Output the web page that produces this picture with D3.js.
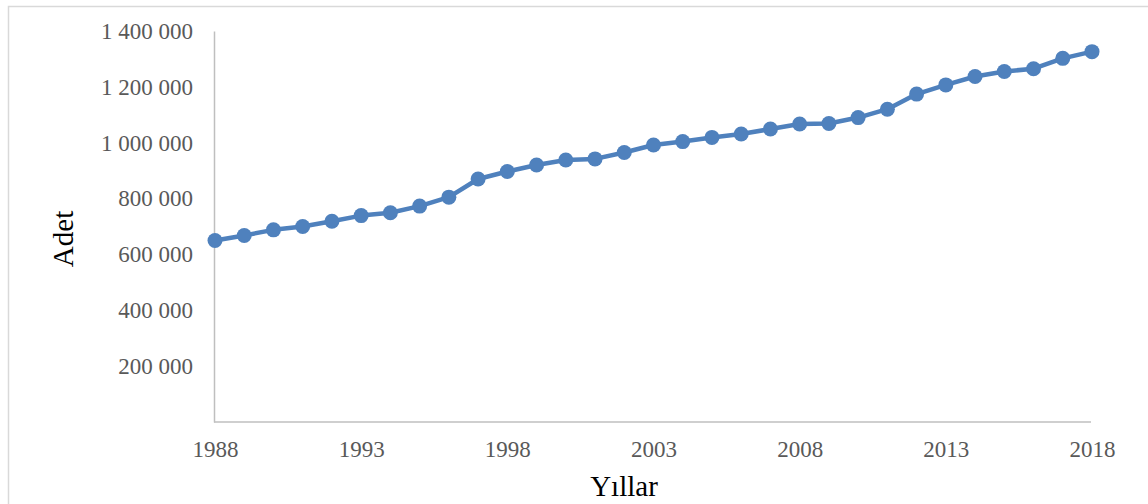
<!DOCTYPE html>
<html>
<head>
<meta charset="utf-8">
<script src="https://cdn.jsdelivr.net/npm/d3@7"></script>
<style>
  body { margin: 0; background: #fff; }
</style>
</head>
<body>
<div id="chart"></div>
<script>
// yillar ve adet degerleri
var years = [1988, 1989, 1990, 1991, 1992, 1993, 1994, 1995, 1996, 1997,
             1998, 1999, 2000, 2001, 2002, 2003, 2004, 2005, 2006, 2007,
             2008, 2009, 2010, 2011, 2012, 2013, 2014, 2015, 2016, 2017, 2018];
var values = [650000, 668000, 688000, 700000, 719000, 739000, 749000, 773000, 805000, 870000,
              897000, 920000, 938000, 942000, 965000, 992000, 1004000, 1019000, 1031000, 1049000,
              1067000, 1069000, 1090000, 1120000, 1174000, 1207000, 1237000, 1255000, 1265000, 1302000, 1326000];
var yTicks = [200000, 400000, 600000, 800000, 1000000, 1200000, 1400000];
var xTicks = [1988, 1993, 1998, 2003, 2008, 2013, 2018];

var width = 1148;
var height = 504;

var svg = d3.select("#chart").append("svg")
    .attr("width", width)
    .attr("height", height);

// chart border
svg.append("rect")
    .attr("x", 8.5)
    .attr("y", 6.5)
    .attr("width", 1150)
    .attr("height", 520)
    .attr("fill", "none")
    .attr("stroke", "#d9d9d9")
    .attr("stroke-width", 1.5);

var x = d3.scaleLinear().domain([1988, 2018]).range([215, 1092]);
var y = d3.scaleLinear().domain([0, 1400000]).range([422, 31]);

var fmt = function (d) { return d3.format(",")(d).replace(/,/g, " "); };

/*****************  Axes **********************/
var yAxis = svg.append("g")
    .attr("transform", "translate(214,0)")
    .call(d3.axisLeft(y).tickValues(yTicks).tickSize(0).tickPadding(21).tickFormat(fmt));

var xAxis = svg.append("g")
    .attr("transform", "translate(0,422)")
    .call(d3.axisBottom(x).tickValues(xTicks).tickSize(0).tickPadding(19).tickFormat(d3.format("d")));

[yAxis, xAxis].forEach(function (g) {
    g.select(".domain").attr("stroke", "#bfbfbf").attr("stroke-width", 1.5);
    g.selectAll("text")
        .attr("font-family", "Liberation Serif, Times New Roman, serif")
        .attr("font-size", "23px")
        .attr("fill", "#595959");
});
xAxis.select(".domain").attr("d", "M214,0H1091");

/*****************  Line and markers **********************/
var data = years.map(function (yr, i) { return { year: yr, value: values[i] }; });

var line = d3.line()
    .x(function (d) { return x(d.year); })
    .y(function (d) { return y(d.value); });

svg.append("path")
    .datum(data)
    .attr("d", line)
    .attr("fill", "none")
    .attr("stroke", "#4f81bd")
    .attr("stroke-width", 4.5)
    .attr("stroke-linejoin", "round");

svg.selectAll(".dot")
    .data(data)
    .enter()
    .append("circle")
    .attr("class", "dot")
    .attr("cx", function (d) { return x(d.year); })
    .attr("cy", function (d) { return y(d.value); })
    .attr("r", 7.5)
    .attr("fill", "#4f81bd");

/*****************  Axis titles **********************/
svg.append("text")
    .attr("transform", "translate(73,239) rotate(-90)")
    .attr("text-anchor", "middle")
    .attr("font-family", "Liberation Serif, Times New Roman, serif")
    .attr("font-size", "29px")
    .attr("fill", "#000")
    .text("Adet");

svg.append("text")
    .attr("x", 624)
    .attr("y", 496)
    .attr("text-anchor", "middle")
    .attr("font-family", "Liberation Serif, Times New Roman, serif")
    .attr("font-size", "29px")
    .attr("fill", "#000")
    .text("Yıllar");
</script>
</body>
</html>
